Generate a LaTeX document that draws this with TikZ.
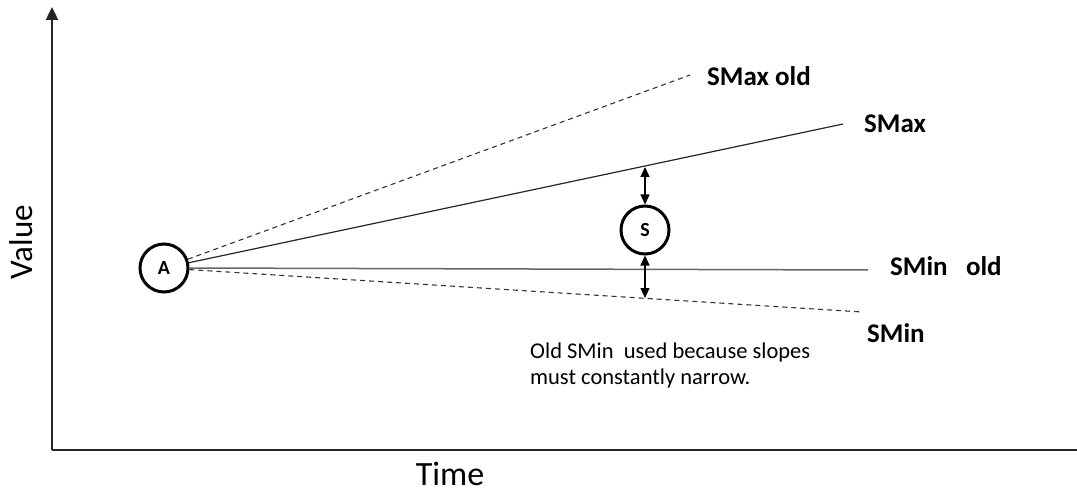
\documentclass[tikz,border=0pt]{standalone}
\usepackage{fontspec}
\setmainfont{Carlito}
\usetikzlibrary{arrows.meta}
\begin{document}
\begin{tikzpicture}[x=1pt,y=-1pt,
  axis/.style={line width=2.4pt,draw=black!85},
  circ/.style={circle,draw=black,line width=3pt,minimum size=48pt,inner sep=0pt,font=\fontsize{20}{24}\selectfont\bfseries},
  solidline/.style={line width=1.2pt,draw=black!85},
  oldline/.style={line width=1.5pt,draw=black!60},
  dashline/.style={line width=1.1pt,draw=black!80,dash pattern=on 5pt off 4pt},
  meas/.style={line width=1.3pt,{Triangle[width=9pt,length=10pt]}-{Triangle[width=9pt,length=10pt]}},
  lab/.style={anchor=west,inner sep=0pt,font=\fontsize{27}{31}\selectfont\bfseries},
  note/.style={anchor=north west,inner sep=0pt,align=left,font=\fontsize{22.5}{25.5}\selectfont},
  axlab/.style={inner sep=0pt,font=\fontsize{33}{38}\selectfont}]
\useasboundingbox (0,0) rectangle (1077,492);
% axes
\coordinate (O) at (52,450);
\coordinate (ytop) at (52,7);
\coordinate (xend) at (1077,450);
\draw[axis,-{Triangle[width=12pt,length=13pt]}] (O) -- (ytop);
\draw[axis] (O) -- (xend);
\node[axlab,rotate=90] (val) at (21,242) {Value};
\node[axlab,font=\fontsize{34}{38}\selectfont] (time) at (450,474) {Time};
% circles
\node[circ] (A) at (164,268) {A};
\node[circ] (S) at (645,230) {S};
% end points
\coordinate (smaxold) at (690,75);
\coordinate (smax) at (843,124);
\coordinate (sminold) at (868,270);
\coordinate (smin) at (862,312);
\draw[dashline] (A) -- (smaxold);
\draw[solidline] (A) -- (smax);
\draw[oldline] (A.east) -- (sminold);
\draw[dashline] (A) -- (smin);
% measures
\coordinate (t) at (645,167);
\coordinate (b) at (645,298);
\draw[meas] (t) -- (S.north);
\draw[meas] (S.south) -- (b);
% labels
\node[lab] (l1) at (707,76) {SMax old};
\node[lab] (l2) at (864,124) {SMax};
\node[lab] (l3) at (890,266) {SMin\ \ \ old};
\node[lab] (l4) at (867,333) {SMin};
\node[note] (n) at (530,343) {Old SMin\ \ used because slopes\\must constantly narrow.};
\end{tikzpicture}
\end{document}
